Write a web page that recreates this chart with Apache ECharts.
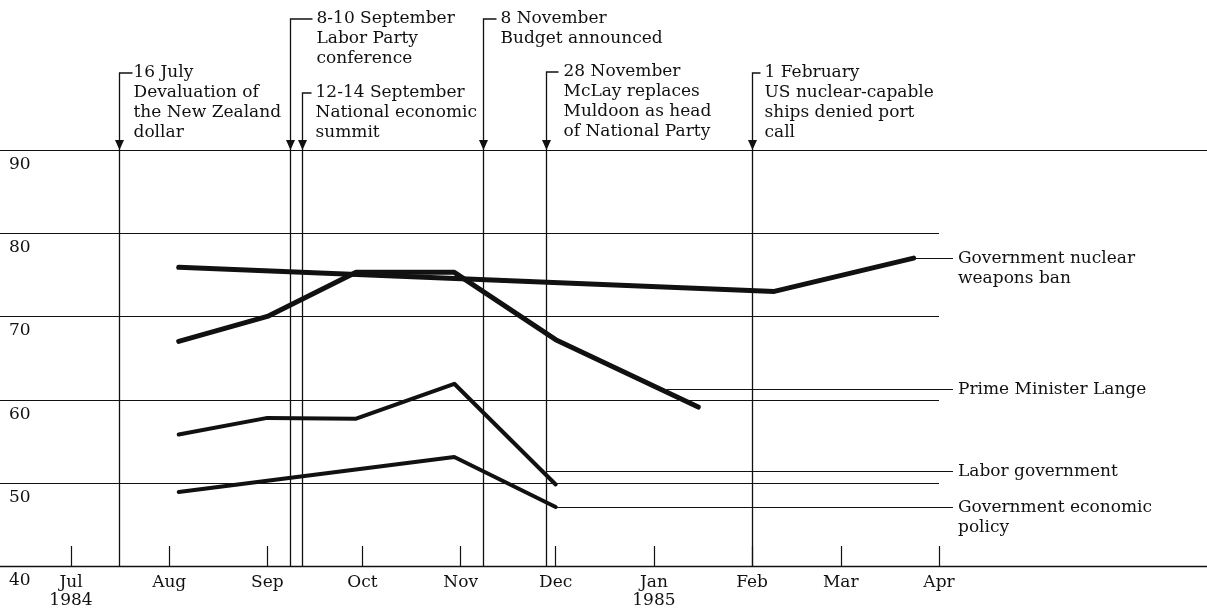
<!DOCTYPE html>
<html>
<head>
<meta charset="utf-8">
<title>New Zealand opinion polls, 1984-85</title>
<script src="https://cdn.jsdelivr.net/npm/echarts@6/dist/echarts.min.js"></script>
<style>
html, body { margin: 0; padding: 0; background: #fff; }
#main { width: 1207px; height: 614px; }
</style>
</head>
<body>
<div id="main"></div>
<script>
// month ticks along the bottom
var tickDates = ['1984-07-01', '1984-08-01', '1984-09-01', '1984-10-01', '1984-11-01',
                 '1984-12-01', '1985-01-01', '1985-02-01', '1985-03-01', '1985-04-01'];
var tickLabels = ['Jul\n1984', 'Aug', 'Sep', 'Oct', 'Nov', 'Dec', 'Jan\n1985', 'Feb', 'Mar', 'Apr'];
var yTicks = [40, 50, 60, 70, 80, 90];

// poll results (per cent approving)
var nuclearDates = ['1984-08-04', '1985-02-08', '1985-03-24'];
var nuclearValues = [75.9, 73.0, 77.0];
var langeDates = ['1984-08-04', '1984-09-01', '1984-09-29', '1984-10-30', '1984-12-01', '1985-01-15'];
var langeValues = [67.0, 70.0, 75.3, 75.3, 67.2, 59.1];
var laborDates = ['1984-08-04', '1984-09-01', '1984-09-29', '1984-10-30', '1984-12-01'];
var laborValues = [55.8, 57.8, 57.7, 61.9, 49.8];
var econDates = ['1984-08-04', '1984-10-30', '1984-12-01'];
var econValues = [48.9, 53.1, 47.1];

// events marked above the chart
var eventDates = ['1984-07-16', '1984-09-08', '1984-09-12', '1984-11-08', '1984-11-28', '1985-02-01'];
var eventTexts = [
    '16 July\nDevaluation of\nthe New Zealand\ndollar',
    '8-10 September\nLabor Party\nconference',
    '12-14 September\nNational economic\nsummit',
    '8 November\nBudget announced',
    '28 November\nMcLay replaces\nMuldoon as head\nof National Party',
    '1 February\nUS nuclear-capable\nships denied port\ncall'
];

// series names on the right, with the point their leader starts from
var calloutNames = ['Government nuclear\nweapons ban', 'Prime Minister Lange', 'Labor government', 'Government economic\npolicy'];
var calloutDates = ['1985-03-24', '1985-01-05', '1984-11-28', '1984-12-01'];
var calloutValues = [77.0, 61.3, 51.4, 47.1];

// days since 1 July 1984
function day(s) {
    var p = s.split('-');
    return (Date.UTC(+p[0], +p[1] - 1, +p[2]) - Date.UTC(1984, 6, 1)) / 864e5;
}
function pairs(dates, values) {
    var out = [];
    for (var i = 0; i < dates.length; i++) {
        out.push([day(dates[i]), values[i]]);
    }
    return out;
}

var FONT = '"DejaVu Serif", "Liberation Serif", serif';
var INK = '#111';
var tickDays = tickDates.map(day);
var xMin = -22.41, xMax = 358.6;
var aprDay = tickDays[tickDays.length - 1];

// layout of the event notes: lift of first line above the 90 line, hook and text offsets
var eventLift = [77, 131, 57, 131, 78, 77];
var eventHook = [13, 22, 9, 13, 12, 8];
var eventGap = [14, 26, 13, 17, 17, 12];

function renderGrid(params, api) {
    var v = api.value(1);
    var a = api.coord([api.value(0), v]);
    var b = api.coord([api.value(2), v]);
    var y = Math.round(a[1]) + 0.5;
    return {
        type: 'line',
        shape: { x1: a[0], y1: y, x2: b[0], y2: y },
        style: { stroke: INK, lineWidth: 1.2 }
    };
}

function renderEvent(params, api) {
    var i = params.dataIndex;
    var d = api.value(0);
    var base = api.coord([d, 40]);
    var tip = api.coord([d, 90]);
    var x = Math.round(base[0]) + 0.5;
    var top = tip[1] - eventLift[i];
    return {
        type: 'group',
        children: [{
            type: 'polyline',
            shape: { points: [[x, base[1]], [x, top], [x + eventHook[i], top]] },
            style: { stroke: INK, lineWidth: 1.3, fill: null }
        }, {
            type: 'polygon',
            shape: { points: [[x, tip[1]], [x - 4.5, tip[1] - 10], [x + 4.5, tip[1] - 10]] },
            style: { fill: INK }
        }, {
            type: 'text',
            x: x + eventGap[i],
            y: top - 10,
            style: {
                text: eventTexts[i], fill: INK, fontFamily: FONT, fontSize: 17,
                lineHeight: 20, align: 'left', verticalAlign: 'top'
            }
        }]
    };
}

function renderCallout(params, api) {
    var i = params.dataIndex;
    var a = api.coord([api.value(0), api.value(1)]);
    var e = api.coord([aprDay, api.value(1)]);
    var x2 = e[0] + 14;
    var y = Math.round(a[1]) + 0.5;
    return {
        type: 'group',
        children: [{
            type: 'line',
            shape: { x1: a[0], y1: y, x2: x2, y2: y },
            style: { stroke: INK, lineWidth: 1.2 }
        }, {
            type: 'text',
            x: x2 + 5,
            y: y - 10,
            style: {
                text: calloutNames[i], fill: INK, fontFamily: FONT, fontSize: 17,
                lineHeight: 20, align: 'left', verticalAlign: 'top'
            }
        }]
    };
}

function lineSeries(name, data, width) {
    return {
        name: name, type: 'line', data: data, symbol: 'none', silent: true, z: 5,
        lineStyle: { color: INK, width: width, cap: 'round', join: 'round' }
    };
}

var gridData = [];
for (var i = 1; i < yTicks.length; i++) {
    gridData.push([xMin, yTicks[i], yTicks[i] === 90 ? xMax : aprDay]);
}
var eventData = eventDates.map(function (s, i) { return [day(s), 90, i]; });
var calloutData = pairs(calloutDates, calloutValues);

var chartObj = echarts.init(document.getElementById('main'), null, { renderer: 'canvas' });
chartObj.setOption({
    animation: false,
    backgroundColor: '#fff',
    grid: { left: 0, right: 0, top: 0, bottom: 48 },
    xAxis: {
        type: 'value', min: xMin, max: xMax,
        splitLine: { show: false },
        axisLine: { show: true, lineStyle: { color: INK, width: 1.3 } },
        axisTick: { show: true, inside: true, length: 20, customValues: tickDays, lineStyle: { color: INK, width: 1.2 } },
        axisLabel: {
            customValues: tickDays, margin: 8, color: INK, fontFamily: FONT, fontSize: 17, lineHeight: 18,
            formatter: function (v) { return tickLabels[tickDays.indexOf(v)] || ''; }
        }
    },
    yAxis: {
        type: 'value', min: 40, max: 40 + 566 / 8.32,
        splitLine: { show: false },
        axisLine: { show: false },
        axisTick: { show: false },
        axisLabel: {
            customValues: yTicks, inside: true, margin: 9, align: 'left', verticalAlign: 'top',
            padding: [6, 0, 0, 0], color: INK, fontFamily: FONT, fontSize: 17
        }
    },
    series: [
        { type: 'custom', name: 'grid', data: gridData, renderItem: renderGrid, silent: true, z: 1 },
        { type: 'custom', name: 'events', data: eventData, renderItem: renderEvent, silent: true, z: 2 },
        { type: 'custom', name: 'callouts', data: calloutData, renderItem: renderCallout, silent: true, z: 3 },
        lineSeries('Government nuclear weapons ban', pairs(nuclearDates, nuclearValues), 5),
        lineSeries('Prime Minister Lange', pairs(langeDates, langeValues), 5),
        lineSeries('Labor government', pairs(laborDates, laborValues), 4),
        lineSeries('Government economic policy', pairs(econDates, econValues), 4)
    ]
});
</script>
</body>
</html>
